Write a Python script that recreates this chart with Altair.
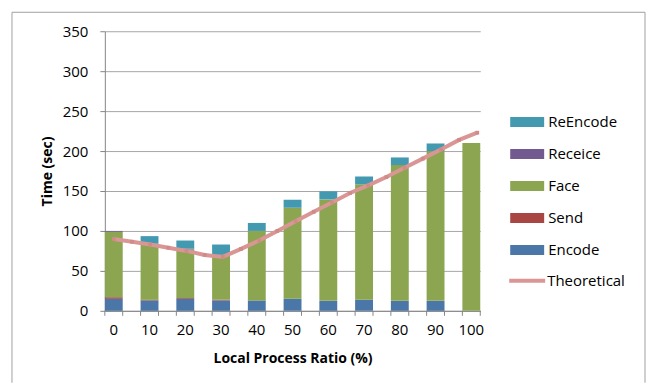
import altair as alt
import pandas as pd

# Stacked time components per local process ratio (%)
ratios = [0, 10, 20, 30, 40, 50, 60, 70, 80, 90, 100]
encode = [15, 13, 15, 13, 13, 15, 12.5, 14, 12.5, 12.5, 0]
send = [2, 1, 1, 1, 0, 0, 0, 0, 0, 0, 0]
face = [82, 69, 61, 55, 87, 114, 127, 144.5, 170, 187.5, 210]
receice = [1, 1, 1, 1, 0, 0, 0, 0, 0, 0, 0]
reencode = [0, 9.5, 10, 13, 10, 10, 10, 9.5, 9.5, 9.5, 0]

# Theoretical curve, sampled every 5 %
theory_ratios = [0, 5, 10, 15, 20, 25, 30, 35, 40, 45, 50,
                 55, 60, 65, 70, 75, 80, 85, 90, 95, 100]
theoretical = [90, 86.5, 83, 79, 75, 70, 67.5, 77.5, 88, 100, 112,
               124, 135.5, 147.5, 157, 167.5, 179, 190.5, 202, 214, 223]

# bottom-to-top stacking order
series_names = ["Encode", "Send", "Face", "Receice", "ReEncode"]
series_values = [encode, send, face, receice, reencode]
legend_order = ["ReEncode", "Receice", "Face", "Send", "Encode"]
legend_colors = ["#4299B0", "#72598F", "#8BA550", "#A94643", "#4A76A8"]
line_color = "#D99694"
y_ticks = [0, 50, 100, 150, 200, 250, 300, 350]

AXIS_GRAY = "#868686"
GRID_GRAY = "#A6A6A6"
FONT = "Open Sans"
W, H = 376, 280

rows = []
for idx, (name, vals) in enumerate(zip(series_names, series_values)):
    for r, v in zip(ratios, vals):
        rows.append({"ratio": r, "series": name, "value": v, "stack": idx})
bars_df = pd.DataFrame(rows)
cats_df = pd.DataFrame({"ratio": ratios})
theory_df = pd.DataFrame({"ratio": theory_ratios, "value": theoretical,
                          "name": ["Theoretical"] * len(theory_ratios)})

x_band = alt.Scale(paddingInner=0.5, paddingOuter=0)
y_scale = alt.Scale(domain=[0, 350], nice=False)
y_axis = alt.Axis(title="Time (sec)", values=y_ticks, labelOverlap=False,
                  domainColor=AXIS_GRAY, tickColor=AXIS_GRAY, tickSize=5,
                  gridColor=GRID_GRAY, labelPadding=12, titlePadding=8)

bars = alt.Chart(bars_df).mark_bar().encode(
    x=alt.X("ratio:O", scale=x_band,
            axis=alt.Axis(title="Local Process Ratio (%)", labelAngle=0,
                          ticks=False, domainColor=AXIS_GRAY, labelPadding=12,
                          titlePadding=14)),
    y=alt.Y("value:Q", stack="zero", scale=y_scale, axis=y_axis),
    color=alt.Color("series:N",
                    scale=alt.Scale(domain=legend_order, range=legend_colors),
                    legend=alt.Legend(title=None, orient="none", legendX=413, legendY=81,
                                      symbolType="M-1.7,-0.5L1.7,-0.5L1.7,0.5L-1.7,0.5Z",
                                      symbolSize=400, symbolStrokeWidth=0,
                                      labelFont=FONT, labelFontSize=15,
                                      labelOffset=11, rowPadding=14, padding=0)),
    order=alt.Order("stack:Q"),
)

# category-axis tick marks at both edges of each bar
tick_left = alt.Chart(cats_df).mark_rule(color=AXIS_GRAY).encode(
    x=alt.X("ratio:O", scale=x_band, bandPosition=0),
    y=alt.value(H), y2=alt.value(H + 5),
)
tick_right = alt.Chart(cats_df).mark_rule(color=AXIS_GRAY).encode(
    x=alt.X("ratio:O", scale=x_band, bandPosition=1),
    y=alt.value(H), y2=alt.value(H + 5),
)

line_base = alt.Chart(theory_df).encode(
    x=alt.X("ratio:Q", scale=alt.Scale(domain=[-2.47, 100.82], nice=False, zero=False),
            axis=None),
    y=alt.Y("value:Q", scale=y_scale, axis=y_axis),
)
line = line_base.mark_line(strokeWidth=4).encode(
    stroke=alt.Stroke("name:N", scale=alt.Scale(range=[line_color]),
                      legend=alt.Legend(title=None, orient="none", legendX=403, legendY=230,
                                        symbolType="stroke", symbolSize=1296,
                                        symbolStrokeWidth=4, labelFont=FONT,
                                        labelFontSize=15, labelOffset=0, padding=0)),
)
markers = line_base.mark_point(shape="square", size=14, filled=True,
                               color="#D08A88", opacity=1)

# outer chart frame
one = alt.Data(values=[{}])
frame_top = alt.Chart(one).mark_rule(color="#A0A0A0").encode(
    x=alt.value(-93), x2=alt.value(541), y=alt.value(-19))
frame_left = alt.Chart(one).mark_rule(color="#A0A0A0").encode(
    x=alt.value(-93), y=alt.value(-19), y2=alt.value(352))
frame_right = alt.Chart(one).mark_rule(color="#A0A0A0").encode(
    x=alt.value(541), y=alt.value(-19), y2=alt.value(352))

chart = alt.layer(
    alt.layer(bars, tick_left, tick_right),
    alt.layer(line, markers),
    frame_top, frame_left, frame_right,
).resolve_scale(x="independent").properties(
    width=W, height=H,
    padding={"left": 11, "top": 11, "right": 2, "bottom": 0},
).configure_view(stroke=None).configure_axis(
    labelFont=FONT, labelFontSize=15, labelColor="#000000",
    titleFont=FONT, titleFontSize=14, titleFontWeight="bold", titleColor="#000000",
).configure_legend(labelColor="#000000")

chart.save("out.html", embed_options={"renderer": "svg", "actions": False})
